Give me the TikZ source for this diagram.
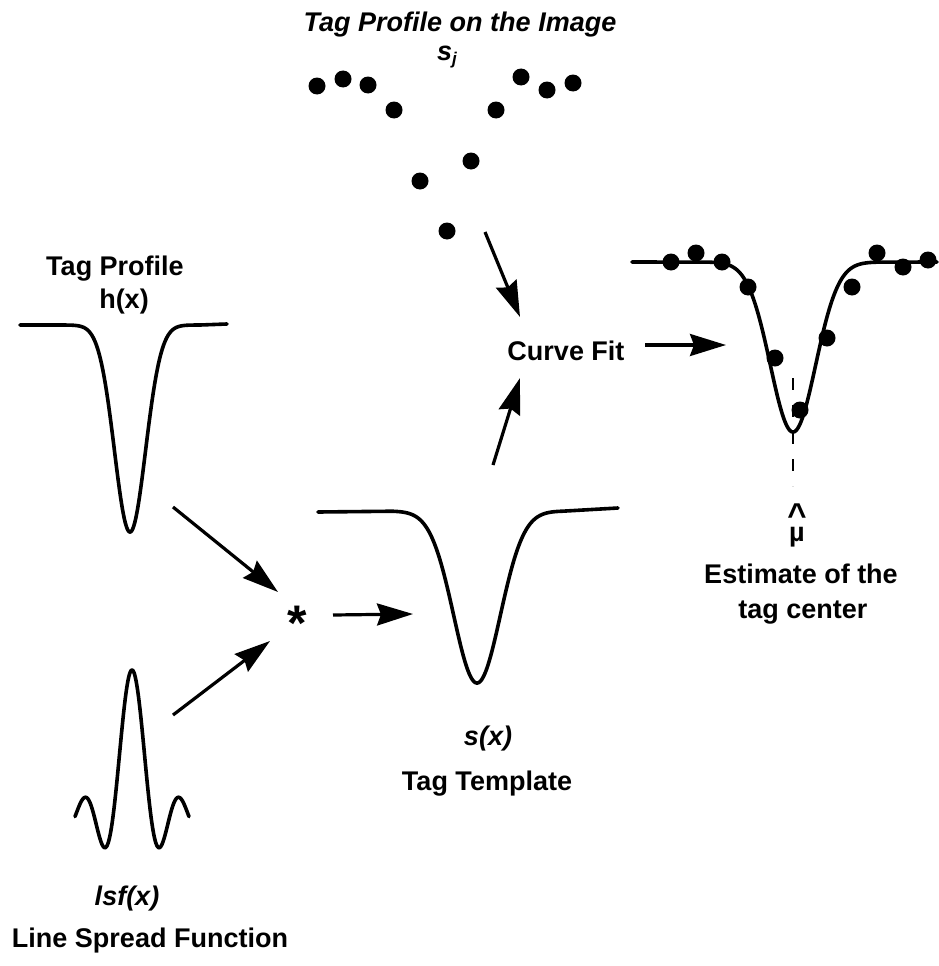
\documentclass[tikz,border=0pt]{standalone}
\usepackage{fontspec}
\setmainfont{Liberation Sans}
\usetikzlibrary{arrows.meta}
\tikzset{
  lbl/.style={font=\fontsize{27}{30}\selectfont\bfseries, anchor=base, inner sep=0pt},
  ilbl/.style={font=\fontsize{27}{30}\selectfont\bfseries\itshape, anchor=base, inner sep=0pt},
  curve/.style={line width=3.6pt, line join=round, line cap=round},
  arr/.style={line width=3.2pt, -{Stealth[length=36pt,width=22pt,inset=4pt]}},
  dot/.style={fill=black},
  dashl/.style={line width=2.8pt, dash pattern=on 12pt off 15pt}
}
\begin{document}
\begin{tikzpicture}[x=1pt,y=-1pt]
\useasboundingbox (0,0) rectangle (939,966);
% ---- top: tag profile on the image
\node[ilbl] (title) at (460,32) {Tag Profile on the Image};
\node[ilbl] (sj) at (447,60) {s\raisebox{-0.3ex}{\fontsize{17}{18}\selectfont j}};
\foreach \p in {(317,86),(343,79),(368,85),(394,110),(496,110),(521,77),(547,90),(573,83),(471,161),(420,181),(447,231)}
  \fill[dot] \p circle (8.5pt);
% ---- left: tag profile h(x)
\node[lbl] (tp) at (115,275) {Tag Profile};
\node[lbl] (hx) at (124,308) {h(x)};
\draw[curve] (20,325) -- plot[domain=60:200,samples=160] ({\x},{325+207*exp(-((\x-130)/22)^2)}) -- (227,324);
% ---- lsf(x)
\draw[curve] plot[domain=-57:57,samples=200,smooth] ({132+\x},{816-146*sin(deg(0.166*\x))/(0.166*\x)});
\node[ilbl] (lsf) at (127,905) {lsf(x)};
\node[lbl] (lsfname) at (150,947) {Line Spread Function};
% ---- convolution
\node[lbl, font=\fontsize{50}{50}\selectfont\bfseries] (conv) at (297,640) {*};
% ---- s(x)
\draw[curve] (318,512) -- plot[domain=392:562,samples=160] ({\x},{511+172*exp(-((\x-477)/33)^2)}) -- (618,508);
\node[ilbl] (sx) at (488,745) {s(x)};
\node[lbl] (tt) at (487,790) {Tag Template};
% ---- curve fit
\node[lbl] (fit) at (566,360) {Curve Fit};
% ---- right: fitted curve
\draw[curve] (632,262) -- plot[domain=708:878,samples=160] ({\x},{262+170*exp(-((\x-793)/32)^2)}) -- (937,262);
\foreach \p in {(671,262),(696,253),(722,262),(748,287),(775,358),(800,410),(827,338),(852,287),(877,253),(903,267),(928,260)}
  \fill[dot] \p circle (8.5pt);
\coordinate (dashTop) at (793,378);
\coordinate (dashBot) at (793,486);
\draw[dashl] (dashTop) -- (dashBot);
\node[lbl, align=center, font=\fontsize{27}{15}\selectfont\bfseries] (muhat) at (797,541) {{\fontsize{33}{15}\selectfont\^{}}\\µ};
\node[lbl] (est1) at (801,583) {Estimate of the};
\node[lbl] (est2) at (803,618) {tag center};
% ---- arrows
\coordinate (dotsEnd) at (485,232);
\coordinate (fitIn1) at (520,317);
\coordinate (sxTop) at (493,465);
\coordinate (fitIn2) at (520,378);
\coordinate (fitOut) at (645,345);
\coordinate (plotIn) at (726,345);
\coordinate (hEnd) at (173,507);
\coordinate (convIn1) at (278,592);
\coordinate (lsfEnd) at (173,715);
\coordinate (convIn2) at (270,641);
\coordinate (convOut) at (333,615);
\coordinate (sxIn) at (413,614);
\draw[arr] (dotsEnd) -- (fitIn1);
\draw[arr] (sxTop) -- (fitIn2);
\draw[arr] (fitOut) -- (plotIn);
\draw[arr] (hEnd) -- (convIn1);
\draw[arr] (lsfEnd) -- (convIn2);
\draw[arr] (convOut) -- (sxIn);
\end{tikzpicture}
\end{document}
